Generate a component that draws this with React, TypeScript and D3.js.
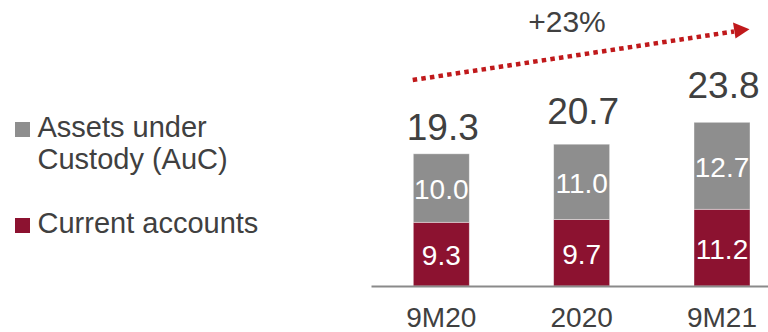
import React from "react";
import * as d3 from "d3";

const categories = ["9M20", "2020", "9M21"];
const currentAccounts = [9.3, 9.7, 11.2];
const assetsUnderCustody = [10.0, 11.0, 12.7];
const totals = [19.3, 20.7, 23.8];
const seriesNames = ["Assets under|Custody (AuC)", "Current accounts"];
const growthLabel = "+23%";

const W = 768;
const H = 332;
const FONT = "'Liberation Sans', Arial, Helvetica, sans-serif";
const RED = "#8c1230";
const GRAY = "#8e8e8e";
const TEXT = "#404040";
const ARROW = "#c0191b";

// per-bar gap between total label baseline and bar top (layout only)
const totalGap = [14, 20, 25];

export default function App() {
  const x = d3.scalePoint<string>().domain(categories).range([441.3, 722]);
  const y = d3.scaleLinear().domain([0, 24]).range([286, 286 - 24 * 6.85]);
  const bw = 56;

  const stack = d3.stack<number>().keys(["ca", "auc"]).value((i, k) =>
    k === "ca" ? currentAccounts[i] : assetsUnderCustody[i]
  );
  const series = stack(categories.map((_, i) => i));
  const colors = [RED, GRAY];

  const arrowLine = d3.line()([
    [412.7, 80],
    [734, 31.5],
  ]);

  return (
    <svg
      width={W}
      height={H}
      style={{ position: "absolute", left: 0, top: 0, display: "block" }}
      fontFamily={FONT}
    >
      <rect width={W} height={H} fill="#fff" />
      {/* legend */}
      <g>
        <rect x={15} y={122} width={15} height={15} fill={GRAY} />
        {seriesNames[0].split("|").map((t, i) => (
          <text key={i} x={37.5} y={136.7 + i * 32.6} fontSize={29} fill={TEXT}>
            {t}
          </text>
        ))}
        <rect x={15} y={218} width={15} height={15} fill={RED} />
        <text x={37.5} y={233.3} fontSize={29} fill={TEXT}>
          {seriesNames[1]}
        </text>
      </g>

      {/* bars */}
      {series.map((s, si) => (
        <g key={si}>
          {s.map((d, i) => {
            const cx = x(categories[i])!;
            const y0 = y(d[0]);
            const y1 = y(d[1]);
            const val = si === 0 ? currentAccounts[i] : assetsUnderCustody[i];
            return (
              <g key={i}>
                <rect
                  x={cx - bw / 2}
                  y={y1}
                  width={bw}
                  height={y0 - y1}
                  fill={colors[si]}
                  stroke="#ffffff"
                  strokeOpacity={0.5}
                  strokeWidth={0.8}
                />
                <text
                  x={cx}
                  y={(y0 + y1) / 2 + 11.2}
                  textAnchor="middle"
                  fontSize={28}
                  fill="#ffffff"
                >
                  {val.toFixed(1)}
                </text>
              </g>
            );
          })}
        </g>
      ))}

      {/* totals */}
      {totals.map((t, i) => (
        <text
          key={i}
          x={x(categories[i])! + 1.5}
          y={y(t) - totalGap[i]}
          textAnchor="middle"
          fontSize={37}
          fill={TEXT}
        >
          {t.toFixed(1)}
        </text>
      ))}

      {/* axis */}
      <line x1={371.5} x2={768} y1={286.5} y2={286.5} stroke="#8a8a8a" strokeWidth={2} />
      {categories.map((c) => (
        <text key={c} x={x(c)!} y={326.5} textAnchor="middle" fontSize={28} fill={TEXT}>
          {c}
        </text>
      ))}

      {/* growth arrow */}
      <path
        d={arrowLine || ""}
        stroke={ARROW}
        strokeWidth={4.5}
        strokeDasharray="4.5,4.2"
        fill="none"
      />
      <polygon points="733,22.5 749.5,29.3 735.5,38.5" fill={ARROW} />
      <text x={567} y={31.7} textAnchor="middle" fontSize={30} fill={TEXT}>
        {growthLabel}
      </text>
    </svg>
  );
}
